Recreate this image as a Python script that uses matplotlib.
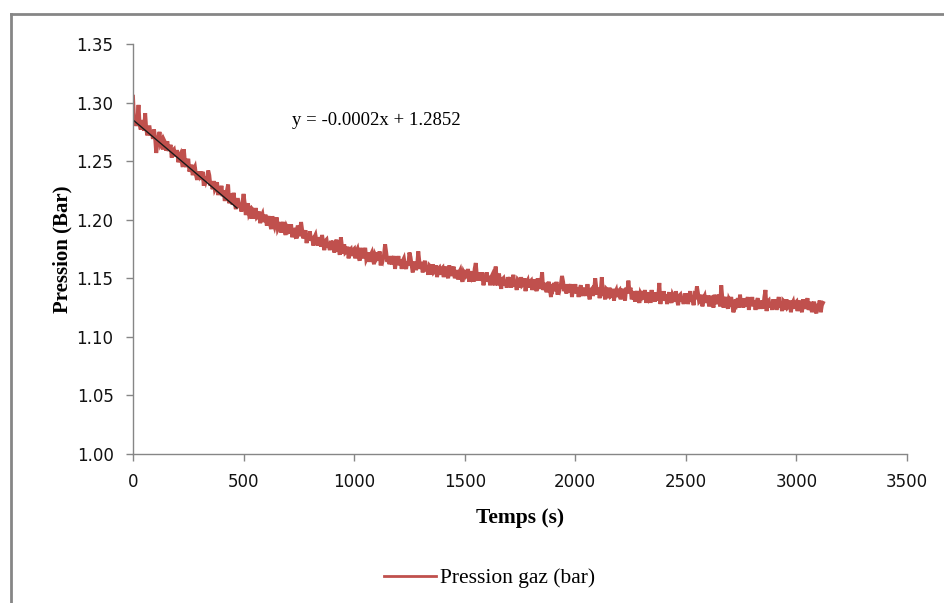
import numpy as np
import matplotlib
matplotlib.use("Agg")
import matplotlib.pyplot as plt
from matplotlib.lines import Line2D

# ---- data ----
time_step = 5  # s
pressure = [
    1.305, 1.284, 1.288, 1.280, 1.286, 1.298, 1.281, 1.277, 1.285, 1.281, 1.276, 1.291, 1.277, 1.272, 1.279, 1.279, 1.272, 1.275, 1.269, 1.277,
    1.270, 1.257, 1.265, 1.270, 1.275, 1.265, 1.267, 1.260, 1.268, 1.266, 1.259, 1.267, 1.260, 1.260, 1.264, 1.253, 1.259, 1.260, 1.254, 1.258,
    1.258, 1.249, 1.254, 1.256, 1.250, 1.245, 1.260, 1.249, 1.245, 1.249, 1.252, 1.241, 1.244, 1.247, 1.238, 1.243, 1.245, 1.238, 1.234, 1.241,
    1.238, 1.241, 1.234, 1.241, 1.229, 1.237, 1.233, 1.236, 1.242, 1.238, 1.229, 1.232, 1.226, 1.233, 1.226, 1.228, 1.232, 1.221, 1.228, 1.223,
    1.229, 1.220, 1.225, 1.216, 1.222, 1.225, 1.230, 1.214, 1.222, 1.218, 1.213, 1.223, 1.215, 1.209, 1.217, 1.217, 1.210, 1.214, 1.207, 1.215,
    1.222, 1.214, 1.204, 1.210, 1.214, 1.205, 1.207, 1.201, 1.209, 1.208, 1.201, 1.210, 1.202, 1.203, 1.207, 1.197, 1.203, 1.205, 1.198, 1.203,
    1.203, 1.195, 1.200, 1.203, 1.196, 1.192, 1.203, 1.197, 1.194, 1.198, 1.202, 1.192, 1.194, 1.198, 1.189, 1.195, 1.198, 1.191, 1.187, 1.194,
    1.192, 1.196, 1.188, 1.196, 1.185, 1.192, 1.189, 1.193, 1.184, 1.195, 1.186, 1.189, 1.198, 1.191, 1.184, 1.187, 1.191, 1.180, 1.188, 1.183,
    1.190, 1.182, 1.186, 1.178, 1.185, 1.187, 1.181, 1.178, 1.185, 1.182, 1.177, 1.187, 1.180, 1.174, 1.182, 1.183, 1.176, 1.180, 1.174, 1.182,
    1.176, 1.182, 1.172, 1.178, 1.183, 1.173, 1.176, 1.170, 1.185, 1.177, 1.171, 1.179, 1.172, 1.173, 1.177, 1.167, 1.174, 1.175, 1.169, 1.174,
    1.175, 1.167, 1.173, 1.175, 1.169, 1.165, 1.176, 1.170, 1.167, 1.172, 1.176, 1.166, 1.168, 1.172, 1.164, 1.170, 1.172, 1.166, 1.162, 1.170,
    1.168, 1.172, 1.165, 1.173, 1.161, 1.169, 1.166, 1.170, 1.179, 1.172, 1.164, 1.167, 1.162, 1.169, 1.162, 1.165, 1.169, 1.158, 1.166, 1.162,
    1.169, 1.161, 1.166, 1.158, 1.165, 1.167, 1.161, 1.158, 1.164, 1.161, 1.172, 1.168, 1.161, 1.155, 1.163, 1.163, 1.157, 1.161, 1.173, 1.164,
    1.158, 1.164, 1.155, 1.161, 1.165, 1.156, 1.159, 1.153, 1.161, 1.160, 1.153, 1.162, 1.155, 1.156, 1.161, 1.151, 1.158, 1.159, 1.153, 1.158,
    1.159, 1.151, 1.157, 1.160, 1.154, 1.150, 1.161, 1.156, 1.152, 1.157, 1.160, 1.150, 1.153, 1.157, 1.149, 1.155, 1.157, 1.151, 1.147, 1.155,
    1.153, 1.157, 1.150, 1.158, 1.147, 1.155, 1.152, 1.156, 1.147, 1.158, 1.163, 1.152, 1.148, 1.155, 1.148, 1.151, 1.155, 1.144, 1.152, 1.148,
    1.155, 1.147, 1.152, 1.144, 1.151, 1.153, 1.147, 1.144, 1.160, 1.148, 1.144, 1.154, 1.147, 1.141, 1.149, 1.150, 1.144, 1.148, 1.142, 1.151,
    1.145, 1.151, 1.142, 1.148, 1.153, 1.143, 1.146, 1.140, 1.149, 1.148, 1.142, 1.151, 1.144, 1.145, 1.150, 1.139, 1.146, 1.148, 1.142, 1.147,
    1.148, 1.140, 1.146, 1.149, 1.143, 1.139, 1.150, 1.145, 1.141, 1.146, 1.155, 1.140, 1.143, 1.146, 1.138, 1.144, 1.147, 1.141, 1.134, 1.145,
    1.142, 1.146, 1.139, 1.147, 1.136, 1.144, 1.141, 1.145, 1.152, 1.147, 1.139, 1.142, 1.137, 1.145, 1.138, 1.141, 1.145, 1.134, 1.142, 1.138,
    1.145, 1.137, 1.142, 1.134, 1.141, 1.144, 1.138, 1.135, 1.142, 1.139, 1.135, 1.145, 1.137, 1.132, 1.140, 1.141, 1.135, 1.139, 1.150, 1.142,
    1.136, 1.142, 1.133, 1.139, 1.151, 1.135, 1.138, 1.132, 1.141, 1.140, 1.133, 1.142, 1.135, 1.136, 1.141, 1.131, 1.138, 1.140, 1.134, 1.139,
    1.140, 1.132, 1.138, 1.141, 1.135, 1.131, 1.142, 1.137, 1.148, 1.139, 1.142, 1.132, 1.135, 1.139, 1.130, 1.136, 1.139, 1.133, 1.129, 1.137,
    1.135, 1.139, 1.132, 1.140, 1.129, 1.137, 1.134, 1.138, 1.129, 1.140, 1.132, 1.135, 1.130, 1.138, 1.131, 1.134, 1.146, 1.128, 1.136, 1.132,
    1.139, 1.131, 1.136, 1.128, 1.135, 1.138, 1.132, 1.129, 1.136, 1.134, 1.130, 1.139, 1.132, 1.127, 1.135, 1.136, 1.130, 1.134, 1.128, 1.137,
    1.131, 1.137, 1.128, 1.134, 1.139, 1.130, 1.133, 1.127, 1.136, 1.135, 1.143, 1.137, 1.130, 1.131, 1.136, 1.126, 1.133, 1.135, 1.129, 1.134,
    1.134, 1.126, 1.132, 1.135, 1.129, 1.125, 1.136, 1.131, 1.128, 1.133, 1.136, 1.126, 1.144, 1.133, 1.125, 1.131, 1.134, 1.128, 1.124, 1.132,
    1.130, 1.134, 1.127, 1.121, 1.124, 1.132, 1.129, 1.133, 1.125, 1.136, 1.127, 1.130, 1.125, 1.133, 1.126, 1.129, 1.134, 1.123, 1.131, 1.127,
    1.134, 1.126, 1.131, 1.123, 1.130, 1.133, 1.127, 1.124, 1.131, 1.128, 1.124, 1.134, 1.140, 1.122, 1.130, 1.131, 1.125, 1.129, 1.123, 1.132,
    1.126, 1.132, 1.123, 1.129, 1.134, 1.125, 1.128, 1.122, 1.131, 1.130, 1.123, 1.132, 1.125, 1.126, 1.131, 1.121, 1.128, 1.130, 1.124, 1.129,
    1.130, 1.122, 1.128, 1.131, 1.125, 1.121, 1.132, 1.127, 1.124, 1.129, 1.133, 1.123, 1.126, 1.130, 1.121, 1.127, 1.130, 1.124, 1.120, 1.128,
    1.125, 1.131, 1.121, 1.127, 1.129,
]
time = [i * time_step for i in range(len(pressure))]

trend_slope = -0.000160
trend_intercept = 1.2852
trend_range = [0, 470]
trend_label = "y = -0.0002x + 1.2852"

x_ticks = [0, 500, 1000, 1500, 2000, 2500, 3000, 3500]
y_ticks = [1.00, 1.05, 1.10, 1.15, 1.20, 1.25, 1.30, 1.35]

# ---- figure ----
W, H = 945, 603
fig = plt.figure(figsize=(W / 100, H / 100), dpi=100)
ax = fig.add_axes([133 / W, 1 - 454 / H, (907 - 133) / W, (454 - 44) / H])

red = "#C0504D"
grey = "#868686"

ax.plot(time, pressure, color=red, lw=2.8, solid_joinstyle="miter")
tx = np.array(trend_range, dtype=float)
ax.plot(tx, trend_slope * tx + trend_intercept, color="#1a1a1a", lw=1.0)

ax.set_xlim(0, 3500)
ax.set_ylim(1.00, 1.35)
ax.set_xticks(x_ticks)
ax.set_yticks(y_ticks)
ax.set_xticklabels([str(v) for v in x_ticks])
ax.set_yticklabels([f"{v:.2f}" for v in y_ticks])

for s in ["top", "right"]:
    ax.spines[s].set_visible(False)
for s in ["left", "bottom"]:
    ax.spines[s].set_color(grey)
    ax.spines[s].set_linewidth(1.0)
ax.tick_params(axis="both", direction="out", length=5, width=1, color=grey,
               labelsize=12, labelcolor="#111111")
ax.tick_params(axis="x", pad=9)
ax.tick_params(axis="y", pad=9)

ax.set_xlabel("Temps (s)", family="Liberation Serif", fontweight="bold",
              fontsize=15.5, labelpad=12)
ax.set_ylabel("Pression (Bar)", family="Liberation Serif", fontweight="bold",
              fontsize=15, labelpad=3)

ax.text(720, 1.285, trend_label, fontsize=13.5, family="Liberation Serif",
        va="center", ha="left")

# legend
handle = Line2D([0], [0], color=red, lw=2.0)
fig.legend([handle], ["Pression gaz (bar)"], loc="center",
           bbox_to_anchor=(490 / W, 1 - 578 / H), frameon=False,
           prop={"family": "Liberation Serif", "size": 15.5},
           handlelength=2.4, handletextpad=0.2)

# outer chart border (only left and top edges visible)
fig.add_artist(Line2D([11 / W, 11 / W], [0, 1 - 14 / H], color=grey, lw=2,
                      transform=fig.transFigure))
fig.add_artist(Line2D([11 / W, 1], [1 - 14 / H, 1 - 14 / H], color=grey, lw=2,
                      transform=fig.transFigure))

fig.savefig("out.png", dpi=100)
